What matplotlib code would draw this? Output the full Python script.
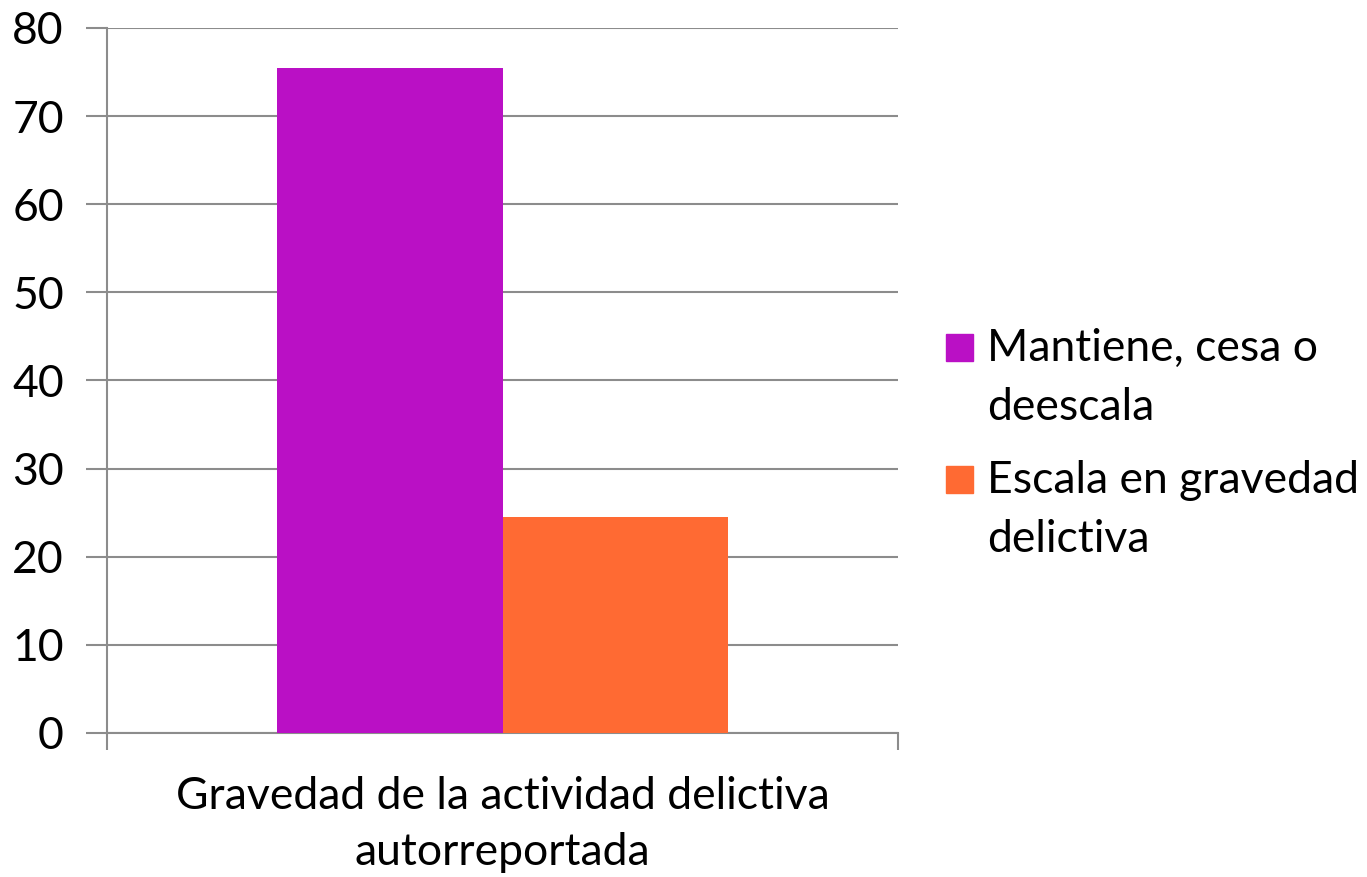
import matplotlib.pyplot as plt
from matplotlib.patches import Rectangle

# Data
category = "Gravedad de la actividad delictiva\nautorreportada"
series_labels = ["Mantiene, cesa o\ndeescala", "Escala en gravedad\ndelictiva"]
series_values = [75.5, 24.5]
series_colors = ["#BA10C5", "#FF6A33"]
y_ticks = [0, 10, 20, 30, 40, 50, 60, 70, 80]

plt.rcParams['font.family'] = ['Lato', 'DejaVu Sans']
FS = 32

fig = plt.figure(figsize=(13.67, 8.77), dpi=100)
ax = fig.add_axes([0.0783, 0.1642, 0.5787, 0.8039])

grid_color = "#8C8C8C"
bar_width = 0.285
offsets = [-bar_width / 2, bar_width / 2]
for off, val, col, lab in zip(offsets, series_values, series_colors, series_labels):
    ax.bar(off, val, width=bar_width, color=col, label=lab, zorder=3)

ax.set_xlim(-0.5, 0.5)
ax.set_ylim(0, 80)
ax.set_yticks(y_ticks)
ax.yaxis.grid(True, color=grid_color, linewidth=1.5)
ax.set_axisbelow(True)

ax.set_xticks([0])
ax.set_xticklabels([category], linespacing=1.45)
ax.set_xticks([-0.5, 0.5], minor=True)
ax.tick_params(axis='x', which='major', length=0, pad=31, labelsize=FS)
ax.tick_params(axis='x', which='minor', length=12, width=1.5, color=grid_color)
ax.tick_params(axis='y', length=15, width=1.5, color=grid_color, labelsize=FS, pad=16)

for s in ['top', 'right']:
    ax.spines[s].set_visible(False)
for s in ['left', 'bottom']:
    ax.spines[s].set_color(grid_color)
    ax.spines[s].set_linewidth(1.5)

# legend drawn by hand so the square sits on the first text line
W, H = 1367, 877
sq_tops = [334, 466]
for top, col, lab in zip(sq_tops, series_colors, series_labels):
    fig.patches.append(Rectangle((946 / W, 1 - (top + 27) / H), 27 / W, 27 / H,
                                 transform=fig.transFigure, color=col))
    fig.text(987 / W, 1 - (top - 6) / H, lab, fontsize=FS, va='top', ha='left',
             linespacing=1.55)

fig.savefig("out.png", dpi=100)
